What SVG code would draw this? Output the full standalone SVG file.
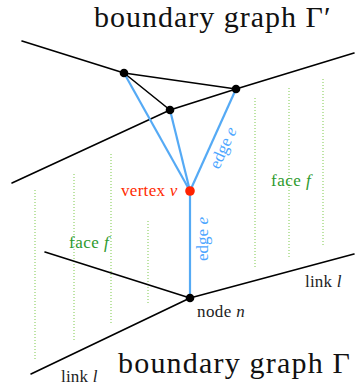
<svg xmlns="http://www.w3.org/2000/svg" width="355" height="389" viewBox="0 0 355 389">
<style>
  .title { font-size: 30px; fill: #111; }
  .lbl { font-size: 17px; fill: #222; }
  .face { fill: #2e9a2e; }
  .edgeT { fill: #4da6ff; }
  .vtx { fill: #ff2a00; }
  .link { stroke: #000; stroke-width: 1.6; fill: none; stroke-linecap: round; }
  .blue { stroke: #55aaf5; stroke-width: 2.2; fill: none; }
  .dot { stroke: #7cc94a; stroke-width: 1; stroke-dasharray: 1 2; fill: none; }
</style>
<rect width="355" height="389" fill="#fff"/>

<g id="faces">
  <line class="dot" x1="35" y1="190" x2="35" y2="359"/>
  <line class="dot" x1="74" y1="174" x2="74" y2="342"/>
  <line class="dot" x1="111" y1="154" x2="111" y2="323"/>
  <line class="dot" x1="148" y1="221" x2="148" y2="303"/>
  <line class="dot" x1="255" y1="98" x2="255" y2="267"/>
  <line class="dot" x1="289" y1="88" x2="289" y2="257"/>
  <line class="dot" x1="323" y1="79" x2="323" y2="247"/>
</g>

<g id="connectors">
  <line class="link" x1="22" y1="41" x2="124" y2="73"/>
  <line class="link" x1="124" y1="73" x2="236" y2="89"/>
  <line class="link" x1="124" y1="73" x2="170" y2="110"/>
  <polyline class="link" points="12,183 170,110 236,89 354,53"/>
  <line class="link" x1="45" y1="252" x2="190" y2="298"/>
  <line class="link" x1="190" y1="298" x2="354" y2="254"/>
  <line class="link" x1="190" y1="298" x2="31" y2="374"/>
  <line class="blue" x1="190" y1="191" x2="124" y2="73"/>
  <line class="blue" x1="190" y1="191" x2="170" y2="110"/>
  <line class="blue" x1="190" y1="191" x2="236" y2="89"/>
  <line class="blue" x1="190" y1="191" x2="190" y2="298"/>
</g>

<g id="node-a"><circle cx="124" cy="73" r="4.3" fill="#000"/></g>
<g id="node-b"><circle cx="170" cy="110" r="4.3" fill="#000"/></g>
<g id="node-c"><circle cx="236" cy="89" r="4.3" fill="#000"/></g>
<g id="node-n"><circle cx="190" cy="298" r="4.3" fill="#000"/>
  <text class="lbl" font-family="Liberation Serif" letter-spacing="0.4" x="197" y="317">node <tspan font-style="italic">n</tspan></text>
</g>
<g id="vertex-v"><circle cx="190" cy="191" r="4.8" fill="#ff2200"/>
  <text class="lbl vtx" font-family="Liberation Serif" letter-spacing="0.3" x="121" y="196">vertex <tspan font-style="italic">v</tspan></text>
</g>

<g id="labels">
  <text class="title" font-family="Liberation Serif" letter-spacing="1" x="94" y="27">boundary graph Γ′</text>
  <text class="title" font-family="Liberation Serif" letter-spacing="1.2" x="118" y="373">boundary graph Γ</text>
  <text class="lbl face" font-family="Liberation Serif" letter-spacing="0.5" x="271" y="186">face <tspan font-style="italic">f</tspan></text>
  <text class="lbl face" font-family="Liberation Serif" letter-spacing="0.5" x="69" y="248">face <tspan font-style="italic">f</tspan></text>
  <text class="lbl" font-family="Liberation Serif" letter-spacing="0.2" x="305" y="287">link <tspan font-style="italic">l</tspan></text>
  <text class="lbl" font-family="Liberation Serif" letter-spacing="0.2" x="61" y="382">link <tspan font-style="italic">l</tspan></text>
  <text class="lbl edgeT" font-family="Liberation Serif" text-anchor="middle" transform="translate(228,150) rotate(-65.7)">edge <tspan font-style="italic">e</tspan></text>
  <text class="lbl edgeT" font-family="Liberation Serif" text-anchor="middle" transform="translate(208,239) rotate(-90)">edge <tspan font-style="italic">e</tspan></text>
</g>
</svg>
